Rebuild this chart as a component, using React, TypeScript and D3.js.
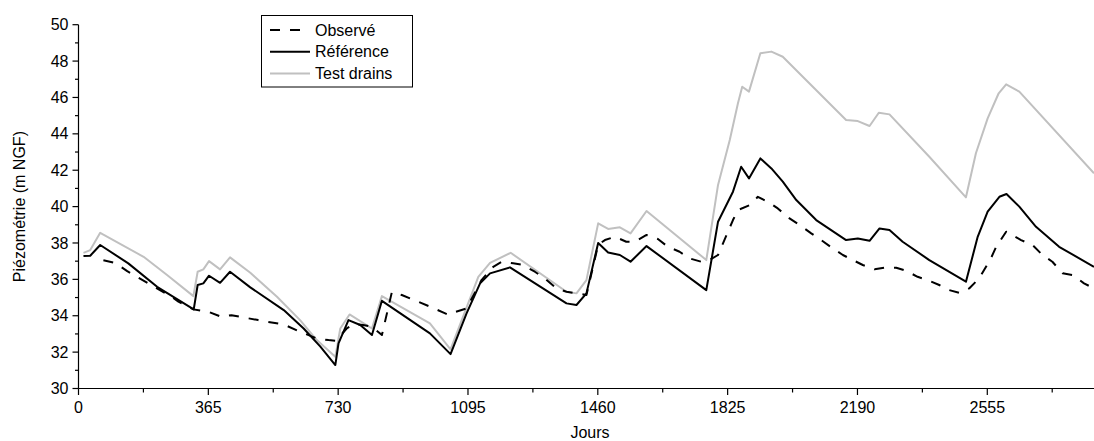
import React from "react";
import * as d3 from "d3";

// ---- Data (days, piezometric level in m NGF) ----
const refDays = [14, 33, 61, 140, 221, 324, 335, 351, 367, 398, 426, 483, 577, 633, 680, 722, 731, 759, 792, 825, 853, 988, 1046, 1091, 1129, 1157, 1213, 1372, 1400, 1428, 1461, 1489, 1522, 1552, 1597, 1765, 1798, 1840, 1863, 1885, 1917, 1948, 1980, 2018, 2074, 2158, 2191, 2224, 2252, 2280, 2317, 2392, 2495, 2528, 2556, 2589, 2609, 2645, 2692, 2757, 2855];
const refValues = [37.28, 37.3, 37.89, 36.88, 35.59, 34.35, 35.69, 35.78, 36.2, 35.81, 36.42, 35.56, 34.31, 33.3, 32.3, 31.29, 32.48, 33.76, 33.49, 32.94, 34.82, 33.03, 31.89, 34.13, 35.78, 36.33, 36.66, 34.68, 34.59, 35.23, 38.0, 37.48, 37.34, 36.97, 37.83, 35.41, 39.17, 40.82, 42.19, 41.55, 42.65, 42.1, 41.37, 40.36, 39.26, 38.16, 38.25, 38.12, 38.8, 38.71, 38.07, 37.06, 35.87, 38.34, 39.72, 40.54, 40.69, 40.0, 38.89, 37.79, 36.69];

const testDays = [14, 33, 61, 183, 249, 323, 335, 351, 367, 398, 426, 483, 558, 623, 670, 722, 736, 762, 825, 853, 988, 1046, 1124, 1157, 1215, 1372, 1400, 1428, 1461, 1489, 1522, 1552, 1597, 1765, 1798, 1831, 1854, 1866, 1885, 1917, 1948, 1980, 2158, 2191, 2224, 2250, 2280, 2392, 2495, 2523, 2556, 2587, 2608, 2645, 2855];
const testValues = [37.46, 37.61, 38.56, 37.24, 36.24, 35.08, 36.42, 36.55, 37.0, 36.55, 37.21, 36.36, 35.04, 33.76, 32.66, 31.74, 33.3, 34.07, 33.3, 35.08, 33.58, 32.15, 36.14, 36.91, 37.46, 35.32, 35.23, 35.96, 39.08, 38.77, 38.86, 38.53, 39.76, 37.06, 41.19, 43.66, 45.68, 46.59, 46.32, 48.43, 48.52, 48.24, 44.76, 44.7, 44.43, 45.16, 45.07, 42.74, 40.51, 42.93, 44.85, 46.23, 46.72, 46.32, 41.83];

const obsDays = [70, 104, 137, 262, 281, 323, 365, 402, 430, 505, 530, 577, 623, 670, 703, 722, 736, 754, 775, 800, 825, 853, 881, 909, 988, 1031, 1040, 1054, 1091, 1133, 1166, 1190, 1222, 1250, 1283, 1311, 1344, 1372, 1400, 1428, 1461, 1480, 1508, 1540, 1564, 1597, 1629, 1657, 1690, 1718, 1751, 1774, 1798, 1812, 1826, 1840, 1854, 1887, 1910, 1943, 1966, 1999, 2027, 2060, 2088, 2121, 2149, 2177, 2205, 2238, 2266, 2299, 2327, 2359, 2387, 2420, 2448, 2476, 2504, 2532, 2546, 2565, 2580, 2608, 2650, 2682, 2710, 2738, 2767, 2795, 2827, 2855];
const obsValues = [37.05, 36.9, 36.45, 35.04, 34.77, 34.35, 34.22, 33.94, 34.03, 33.76, 33.67, 33.52, 33.12, 32.75, 32.66, 32.62, 32.9, 33.3, 33.55, 33.49, 33.4, 32.94, 35.3, 35.14, 34.5, 34.13, 34.05, 34.17, 34.4, 35.96, 36.69, 36.97, 36.88, 36.79, 36.42, 36.05, 35.5, 35.32, 35.23, 35.14, 37.9, 38.16, 38.34, 38.07, 38.07, 38.44, 38.22, 37.79, 37.52, 37.15, 36.97, 37.06, 37.34, 37.98, 38.62, 39.26, 39.81, 40.08, 40.54, 40.21, 39.9, 39.35, 38.99, 38.53, 38.16, 37.7, 37.34, 37.06, 36.79, 36.55, 36.64, 36.64, 36.47, 36.14, 35.96, 35.69, 35.41, 35.26, 35.5, 36.05, 36.51, 37.15, 37.79, 38.62, 38.16, 37.89, 37.34, 36.97, 36.33, 36.24, 35.78, 35.5];

const xTicks = [0, 365, 730, 1095, 1460, 1825, 2190, 2555];
const xMinorTicks = [182.5, 547.5, 912.5, 1277.5, 1642.5, 2007.5, 2372.5, 2737.5];
const yTicks = [30, 32, 34, 36, 38, 40, 42, 44, 46, 48, 50];
const yMinorTicks = [31, 33, 35, 37, 39, 41, 43, 45, 47, 49];

const seriesNames = ["Observé", "Référence", "Test drains"];

const W = 1094;
const H = 441;
const FONT = "Arial, 'Liberation Sans', sans-serif";

export default function App() {
  const x = d3.scaleLinear().domain([0, 2855]).range([78.5, 1094]);
  const y = d3.scaleLinear().domain([30, 50]).range([388.5, 24.7]);

  const mk = (days: number[], vals: number[]) =>
    d3
      .line<number>()
      .x((_, i) => x(days[i]))
      .y((v) => y(v))(vals) || "";

  const pathRef = mk(refDays, refValues);
  const pathTest = mk(testDays, testValues);
  const pathObs = mk(obsDays, obsValues);

  const x0 = x(0);
  const yBase = y(30);

  const legendStyles = [
    { stroke: "#000", dash: "10,10" },
    { stroke: "#000", dash: undefined },
    { stroke: "#c0c0c0", dash: undefined },
  ];

  return (
    <svg
      width={W}
      height={H}
      style={{ position: "absolute", left: 0, top: 0, background: "#fff" }}
      fontFamily={FONT}
    >
      <rect x={0} y={0} width={W} height={H} fill="#fff" />
      {/* series */}
      <path d={pathTest} fill="none" stroke="#c0c0c0" strokeWidth={2} strokeLinejoin="round" />
      <path d={pathRef} fill="none" stroke="#000" strokeWidth={2} strokeLinejoin="round" />
      <path d={pathObs} fill="none" stroke="#000" strokeWidth={2} strokeDasharray="10,10" strokeLinejoin="round" />

      {/* axes */}
      <line x1={x0} x2={x0} y1={y(50)} y2={yBase} stroke="#000" strokeWidth={1.2} />
      <line x1={x0} x2={W} y1={yBase} y2={yBase} stroke="#000" strokeWidth={1.2} />
      {yTicks.map((t) => (
        <g key={"y" + t}>
          <line x1={x0 - 6} x2={x0} y1={y(t)} y2={y(t)} stroke="#000" strokeWidth={1.2} />
          <text x={x0 - 10} y={y(t)} dy="0.35em" textAnchor="end" fontSize={16} fill="#000">
            {t}
          </text>
        </g>
      ))}
      {yMinorTicks.map((t) => (
        <line key={"ym" + t} x1={x0 - 3.5} x2={x0} y1={y(t)} y2={y(t)} stroke="#000" strokeWidth={1.2} />
      ))}
      {xTicks.map((t) => (
        <g key={"x" + t}>
          <line x1={x(t)} x2={x(t)} y1={yBase} y2={yBase + 6.5} stroke="#000" strokeWidth={1.2} />
          <text x={x(t)} y={413} textAnchor="middle" fontSize={16} fill="#000">
            {t}
          </text>
        </g>
      ))}
      {xMinorTicks.map((t) => (
        <line key={"xm" + t} x1={x(t)} x2={x(t)} y1={yBase} y2={yBase + 4} stroke="#000" strokeWidth={1.2} />
      ))}

      {/* axis titles */}
      <text x={590} y={438} textAnchor="middle" fontSize={16} fill="#000">
        Jours
      </text>
      <text
        transform={`translate(25, ${(y(50) + yBase) / 2}) rotate(-90)`}
        textAnchor="middle"
        fontSize={16}
        fill="#000"
      >
        Piézométrie (m NGF)
      </text>

      {/* legend */}
      <rect x={261.5} y={15.5} width={151} height={71.5} fill="#fff" stroke="#000" strokeWidth={1} />
      {seriesNames.map((name, i) => {
        const cy = 30 + i * 21.7;
        const st = legendStyles[i];
        return (
          <g key={name}>
            <line
              x1={270}
              x2={310}
              y1={cy}
              y2={cy}
              stroke={st.stroke}
              strokeWidth={2}
              strokeDasharray={st.dash}
            />
            <text x={315} y={cy} dy="0.36em" fontSize={16} fill="#000">
              {name}
            </text>
          </g>
        );
      })}
    </svg>
  );
}
